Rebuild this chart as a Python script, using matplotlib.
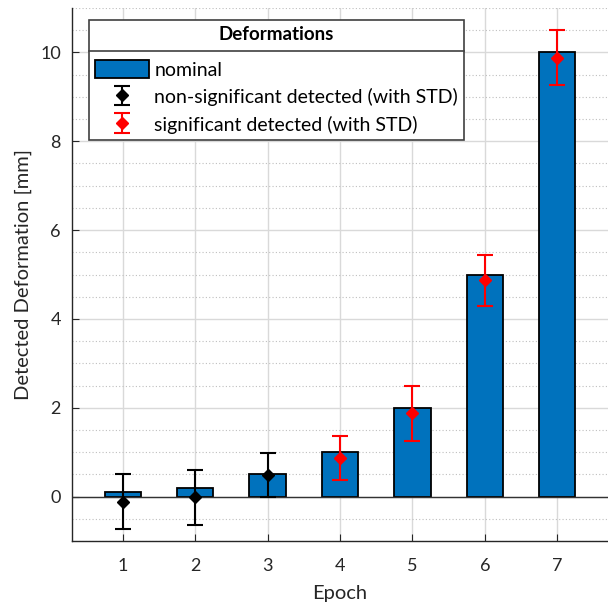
import numpy as np
import matplotlib.pyplot as plt
from matplotlib.lines import Line2D

plt.rcParams['font.family'] = ['Lato', 'DejaVu Sans']

# data
epochs = [1, 2, 3, 4, 5, 6, 7]
nominal = [0.1, 0.2, 0.5, 1.0, 2.0, 5.0, 10.0]
detected = [-0.12, -0.02, 0.48, 0.87, 1.88, 4.87, 9.88]
std = [0.62, 0.62, 0.49, 0.50, 0.62, 0.57, 0.62]
significant = [False, False, False, True, True, True, True]

blue = '#0072BD'

fig = plt.figure(figsize=(6.08, 6.03), dpi=100)
ax = fig.add_axes([72/608, 62/603, 536/608, 533/603])

ax.set_axisbelow(True)
ax.grid(which='major', color='#d9d9d9', linewidth=1.0)
ax.minorticks_on()
ax.yaxis.set_minor_locator(plt.MultipleLocator(0.5))
ax.xaxis.set_minor_locator(plt.NullLocator())
ax.grid(which='minor', axis='y', color='#bfbfbf', linestyle=(0, (1, 2)), linewidth=0.8)

bars = ax.bar(epochs, nominal, width=0.5, color=blue, edgecolor='black', linewidth=1.3,
              label='nominal')
ax.axhline(0, color='#333333', linewidth=1.0, zorder=2.5)

ns = [i for i in range(len(epochs)) if not significant[i]]
sg = [i for i in range(len(epochs)) if significant[i]]
e1 = ax.errorbar([epochs[i] for i in ns], [detected[i] for i in ns], yerr=[std[i] for i in ns],
                 fmt='D', color='black', markersize=6, capsize=6, elinewidth=1.5, capthick=1.5,
                 zorder=3, label='non-significant detected (with STD)')
e2 = ax.errorbar([epochs[i] for i in sg], [detected[i] for i in sg], yerr=[std[i] for i in sg],
                 fmt='D', color='red', markersize=6, capsize=6, elinewidth=1.5, capthick=1.5,
                 zorder=3, label='significant detected (with STD)')

ax.set_xlim(0.3, 7.7)
ax.set_ylim(-1, 11)
ax.set_xticks(epochs)
ax.set_yticks([0, 2, 4, 6, 8, 10])
ax.tick_params(which='both', direction='in', labelsize=13, colors='#262626', length=5, pad=8)
ax.tick_params(axis='x', pad=12)
ax.tick_params(which='minor', length=0)
ax.spines['top'].set_visible(False)
ax.spines['right'].set_visible(False)
for s in ['left', 'bottom']:
    ax.spines[s].set_color('#262626')
    ax.spines[s].set_linewidth(1.0)

ax.set_xlabel('Epoch', fontsize=14.5, color='#262626', labelpad=8)
ax.set_ylabel('Detected Deformation [mm]', fontsize=14.5, color='#262626', labelpad=6)

leg = ax.legend(handles=[bars, e1, e2], loc='upper left', bbox_to_anchor=(0.032, 0.977),
                title='Deformations', title_fontproperties={'weight': 'bold', 'size': 13.5},
                fontsize=14, frameon=True, fancybox=False, edgecolor='#404040',
                handlelength=2.8, handleheight=1.1, labelspacing=0.45, borderpad=0.3,
                handletextpad=0.25, borderaxespad=0)
leg.get_frame().set_linewidth(1.2)
leg.get_frame().set_alpha(1)
leg._legend_box.sep = 12

fig.canvas.draw()
lb = leg.get_window_extent()
tb = leg.get_title().get_window_extent()
hb = leg._legend_handle_box.get_window_extent(fig.canvas.get_renderer())
ysep = (tb.y0 + hb.y1) / 2
inv = fig.transFigure.inverted()
(x0, y0), (x1, _) = inv.transform([(lb.x0, ysep), (lb.x1, ysep)])
fig.add_artist(Line2D([x0, x1], [y0, y0], transform=fig.transFigure, color='#404040', linewidth=1.2))

fig.savefig('out.png', dpi=100)
